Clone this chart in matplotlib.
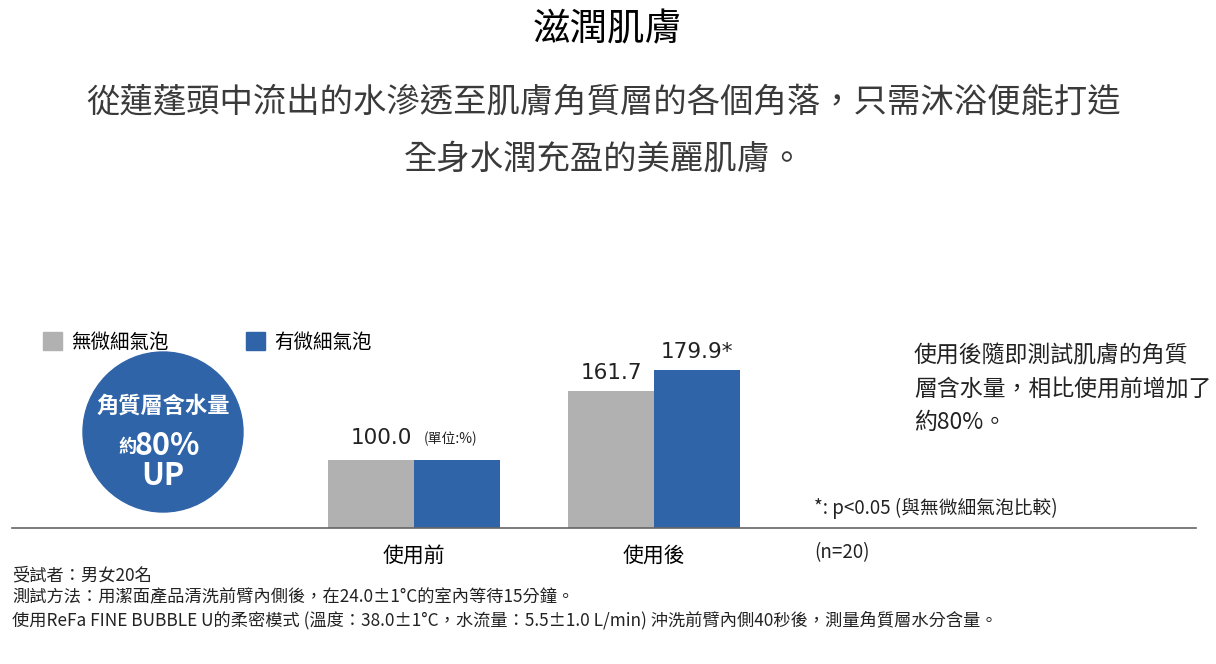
import numpy as np
import matplotlib
matplotlib.use('Agg')
import matplotlib.pyplot as plt
from matplotlib.patches import Patch, Ellipse

plt.rcParams['font.family'] = ['Noto Sans CJK TC', 'DejaVu Sans']

############################################
# data
categories = ['使用前', '使用後']
series_names = ['無微細氣泡', '有微細氣泡']
without_bubble = [100.0, 161.7]
with_bubble = [100.0, 179.9]

title = '滋潤肌膚'
subtitle = ['從蓮蓬頭中流出的水滲透至肌膚角質層的各個角落，只需沐浴便能打造',
            '全身水潤充盈的美麗肌膚。']
side_note = ['使用後隨即測試肌膚的角質',
             '層含水量，相比使用前增加了',
             '約80%。']
footnotes = ['受試者：男女20名',
             '測試方法：用潔面產品清洗前臂內側後，在24.0±1°C的室內等待15分鐘。',
             '使用ReFa FINE BUBBLE U的柔密模式 (溫度：38.0±1°C，水流量：5.5±1.0 L/min) 沖洗前臂內側40秒後，測量角質層水分含量。']

gray = '#b1b1b1'
blue = '#3064a8'
W, H = 1216, 664
num_font = ['DejaVu Sans', 'Noto Sans CJK TC']


def fx(px):
    return px / W


def fy(py):
    return 1 - py / H


#############################################
## Plotting Data
fig = plt.figure(figsize=(W / 100, H / 100), dpi=100)
ax = fig.add_axes([fx(12), fy(528), fx(1196) - fx(12), fy(300) - fy(528)])

x = np.arange(len(categories))
w = 0.358
ax.bar(x - w / 2, without_bubble, w, color=gray)
ax.bar(x + w / 2, with_bubble, w, color=blue)

ax.set_xlim(-1.675, 3.258)
ax.set_ylim(40, 242.5)
for s in ['top', 'left', 'right']:
    ax.spines[s].set_visible(False)
ax.spines['bottom'].set_color('#666666')
ax.spines['bottom'].set_linewidth(1.2)
ax.set_yticks([])
ax.set_xticks(x)
ax.set_xticklabels(categories, fontsize=15)
ax.tick_params(axis='x', length=0, pad=12)

# value labels
ax.annotate('%.1f' % without_bubble[0], (x[0] - 0.01, without_bubble[0]),
            xytext=(0, 9), textcoords='offset points', ha='right', va='bottom',
            fontsize=15.5, family=num_font, color='#222222')
ax.annotate('(單位:%)', (x[0] + 0.04, without_bubble[0]),
            xytext=(0, 10), textcoords='offset points', ha='left', va='bottom',
            fontsize=10, color='#222222')
ax.annotate('%.1f' % without_bubble[1], (x[1] - w / 2, without_bubble[1]),
            xytext=(0, 6), textcoords='offset points', ha='center', va='bottom',
            fontsize=15.5, family=num_font, color='#222222')
ax.annotate('%.1f*' % with_bubble[1], (x[1] + w / 2, with_bubble[1]),
            xytext=(0, 6), textcoords='offset points', ha='center', va='bottom',
            fontsize=15.5, family=num_font, color='#222222')

# legend
fig.legend(handles=[Patch(color=gray), Patch(color=blue)], labels=series_names,
           loc='upper left', bbox_to_anchor=(fx(25), fy(314)), ncol=2,
           frameon=False, fontsize=14, handlelength=1.0, handleheight=1.0,
           handletextpad=0.45, columnspacing=4.0)

# circle badge
fig.add_artist(Ellipse((fx(163), fy(432)), 160 / W, 160 / H,
                       transform=fig.transFigure, color=blue))
fig.text(fx(163), fy(406), '角質層含水量', color='white', fontsize=16,
         fontweight='bold', ha='center', va='center')
fig.text(fx(136), fy(446), '約', color='white', fontsize=13,
         fontweight='bold', ha='right', va='center')
fig.text(fx(135), fy(446), '80%', color='white', fontsize=22,
         fontweight='bold', ha='left', va='center')
fig.text(fx(163), fy(476), 'UP', color='white', fontsize=22,
         fontweight='bold', ha='center', va='center')

# titles
fig.text(0.5, fy(30), title, fontsize=27, fontweight='normal',
         ha='center', va='center')
fig.text(fx(604), fy(102), subtitle[0], fontsize=24, fontweight='light',
         color='#3a3a3a', ha='center', va='center')
fig.text(fx(604), fy(160), subtitle[1], fontsize=24, fontweight='light',
         color='#3a3a3a', ha='center', va='center')

# side notes
for i, line in enumerate(side_note):
    fig.text(fx(914), fy(356 + 33 * i), line, fontsize=16.5, color='#222222',
             ha='left', va='center')
fig.text(fx(814), fy(508), '*: p<0.05 (與無微細氣泡比較)', fontsize=13.5,
         color='#222222', ha='left', va='center')
fig.text(fx(814), fy(553), '(n=20)', fontsize=13.5, color='#222222',
         ha='left', va='center')

for i, line in enumerate(footnotes):
    fig.text(fx(12), fy(575 + 22.5 * i), line, fontsize=12.4, color='#222222',
             ha='left', va='center')

fig.savefig('out.png', dpi=100)
